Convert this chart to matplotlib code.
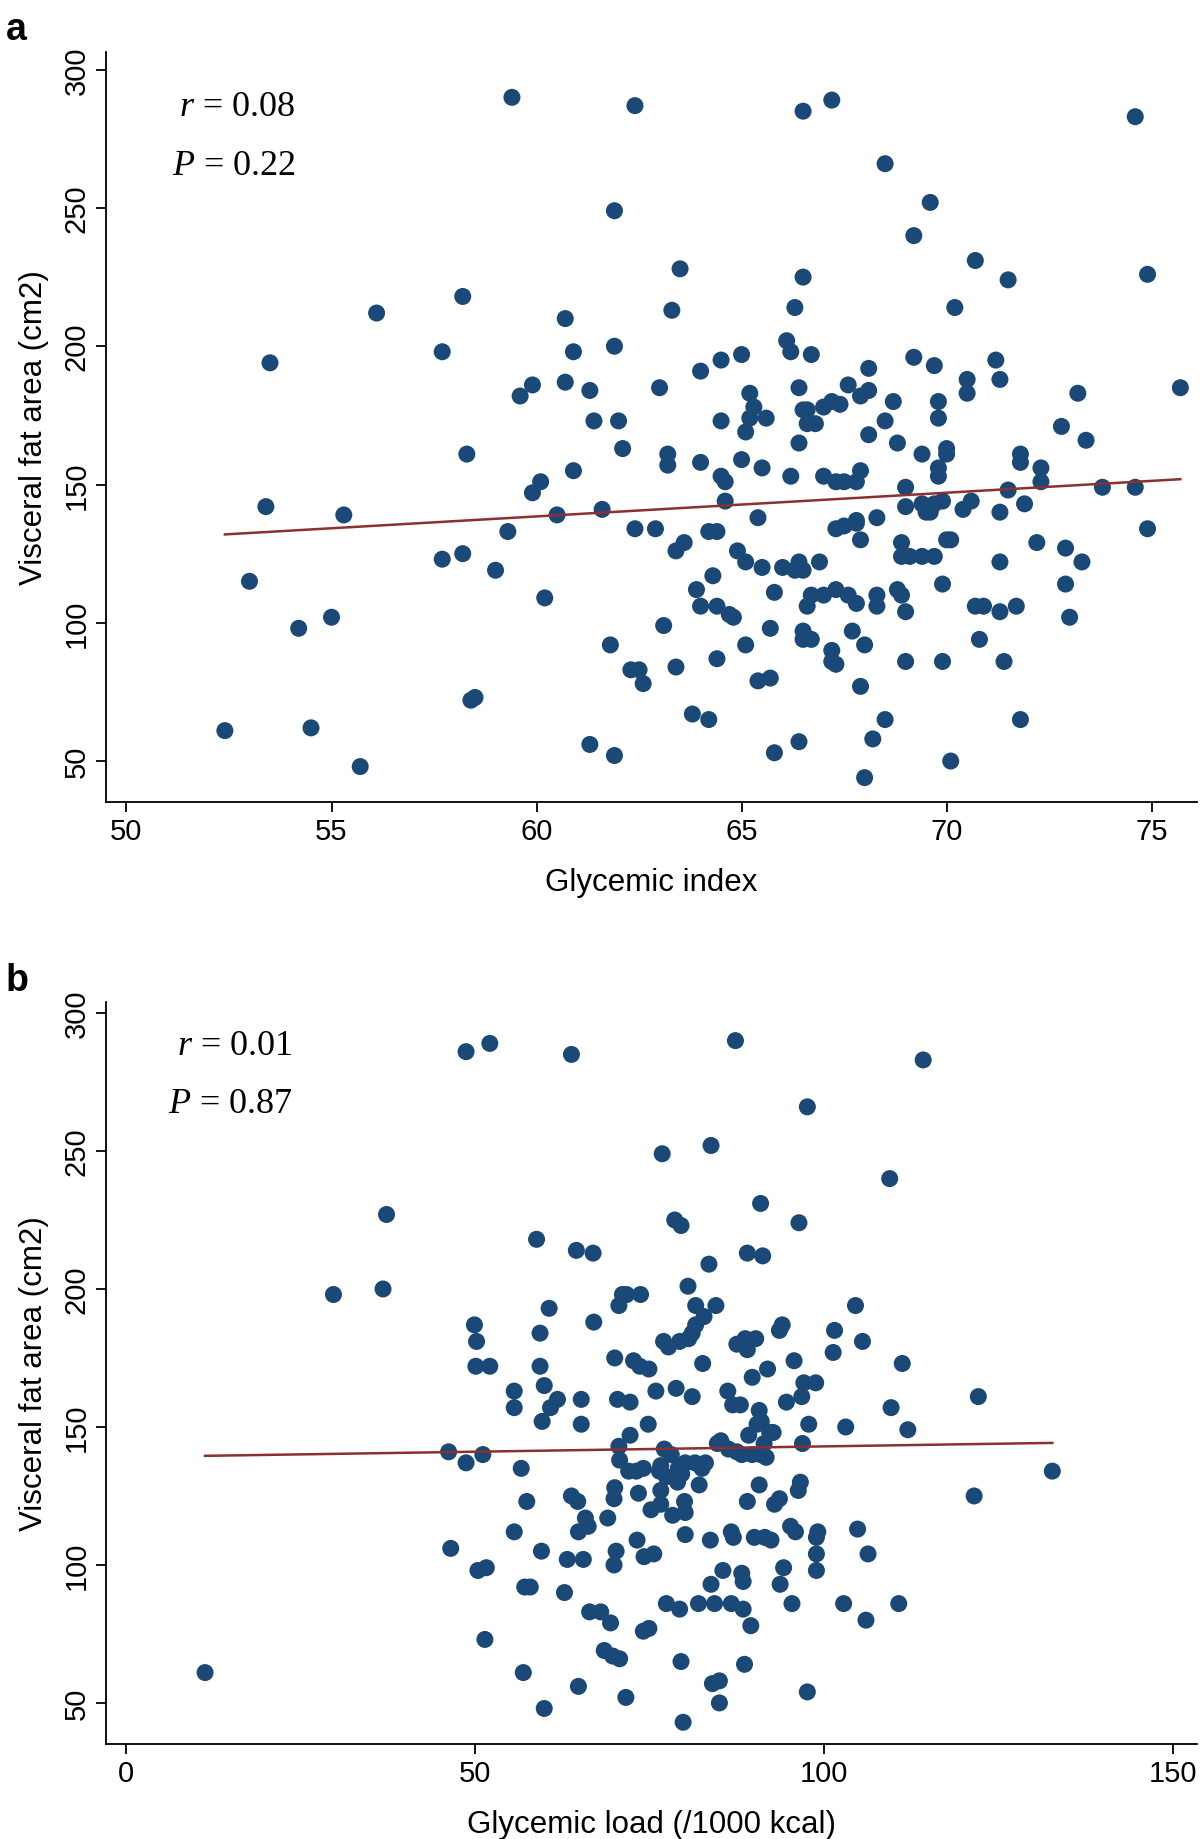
import numpy as np
import matplotlib.pyplot as plt

plt.rcParams['font.family'] = ['Liberation Sans', 'DejaVu Sans']
plt.rcParams['mathtext.fontset'] = 'custom'
plt.rcParams['mathtext.it'] = 'Liberation Serif:italic'
plt.rcParams['mathtext.rm'] = 'Liberation Serif'

# Panel a: glycemic index vs visceral fat area
gi = [52.4, 53.0, 53.4, 53.5, 54.2, 54.5, 55.0, 55.3, 55.7, 56.1,
      57.7, 57.7, 58.2, 58.2, 58.3, 58.4, 58.5, 59.0, 59.3, 59.4,
      59.6, 59.9, 59.9, 60.1, 60.2, 60.5, 60.7, 60.7, 60.9, 60.9,
      61.3, 61.3, 61.4, 61.6, 61.8, 61.9, 61.9, 61.9, 62.0, 62.1,
      62.3, 62.4, 62.4, 62.5, 62.6, 62.9, 63.0, 63.1, 63.2, 63.2,
      63.3, 63.4, 63.4, 63.5, 63.6, 63.8, 63.9, 64.0, 64.0, 64.0,
      64.2, 64.2, 64.3, 64.4, 64.4, 64.4, 64.5, 64.5, 64.5, 64.6,
      64.6, 64.7, 64.8, 64.9, 65.0, 65.0, 65.1, 65.1, 65.1, 65.2,
      65.2, 65.3, 65.4, 65.4, 65.5, 65.5, 65.6, 65.7, 65.7, 65.8,
      65.8, 66.0, 66.1, 66.2, 66.2, 66.3, 66.3, 66.4, 66.4, 66.4,
      66.4, 66.5, 66.5, 66.5, 66.5, 66.5, 66.5, 66.6, 66.6, 66.6,
      66.7, 66.7, 66.7, 66.8, 66.9, 67.0, 67.0, 67.0, 67.2, 67.2,
      67.2, 67.2, 67.3, 67.3, 67.3, 67.3, 67.4, 67.5, 67.5, 67.6,
      67.6, 67.7, 67.8, 67.8, 67.8, 67.8, 67.9, 67.9, 67.9, 67.9,
      68.0, 68.0, 68.1, 68.1, 68.1, 68.2, 68.3, 68.3, 68.3, 68.5,
      68.5, 68.5, 68.7, 68.8, 68.8, 68.9, 68.9, 68.9, 69.0, 69.0,
      69.0, 69.0, 69.1, 69.2, 69.2, 69.4, 69.4, 69.4, 69.5, 69.5,
      69.6, 69.6, 69.7, 69.7, 69.7, 69.8, 69.8, 69.8, 69.8, 69.9,
      69.9, 69.9, 70.0, 70.0, 70.0, 70.1, 70.1, 70.2, 70.4, 70.5,
      70.5, 70.6, 70.7, 70.7, 70.8, 70.9, 71.2, 71.3, 71.3, 71.3,
      71.3, 71.4, 71.5, 71.5, 71.7, 71.8, 71.8, 71.8, 71.9, 72.2,
      72.3, 72.3, 72.8, 72.9, 72.9, 73.0, 73.2, 73.3, 73.4, 73.8,
      74.6, 74.6, 74.9, 74.9, 75.7]
vfa_a = [61, 115, 142, 194, 98, 62, 102, 139, 48, 212,
         123, 198, 125, 218, 161, 72, 73, 119, 133, 290,
         182, 186, 147, 151, 109, 139, 187, 210, 198, 155,
         56, 184, 173, 141, 92, 52, 249, 200, 173, 163,
         83, 287, 134, 83, 78, 134, 185, 99, 161, 157,
         213, 84, 126, 228, 129, 67, 112, 191, 106, 158,
         65, 133, 117, 87, 133, 106, 153, 195, 173, 151,
         144, 103, 102, 126, 159, 197, 169, 92, 122, 183,
         174, 178, 138, 79, 120, 156, 174, 80, 98, 53,
         111, 120, 202, 198, 153, 214, 119, 165, 185, 57,
         122, 119, 177, 94, 285, 97, 225, 106, 172, 177,
         197, 110, 94, 172, 122, 153, 178, 110, 86, 180,
         90, 289, 85, 134, 151, 112, 179, 135, 151, 186,
         110, 97, 151, 136, 107, 137, 130, 182, 77, 155,
         92, 44, 192, 184, 168, 58, 106, 138, 110, 173,
         266, 65, 180, 112, 165, 110, 124, 129, 86, 142,
         104, 149, 124, 196, 240, 161, 143, 124, 140, 142,
         140, 252, 143, 124, 193, 180, 174, 156, 153, 86,
         144, 114, 130, 161, 163, 50, 130, 214, 141, 188,
         183, 144, 106, 231, 94, 106, 195, 188, 140, 104,
         122, 86, 224, 148, 106, 65, 161, 158, 143, 129,
         151, 156, 171, 127, 114, 102, 183, 122, 166, 149,
         149, 283, 134, 226, 185]

# Panel b: glycemic load vs visceral fat area
gl = [11.3, 29.7, 36.8, 37.3, 46.2, 46.5, 48.7, 48.7, 49.9, 50.1,
      50.2, 50.4, 51.1, 51.4, 51.6, 52.1, 52.1, 55.6, 55.6, 55.6,
      56.6, 56.9, 57.1, 57.4, 57.9, 58.8, 59.3, 59.3, 59.5, 59.6,
      59.9, 59.9, 60.6, 60.8, 61.8, 62.8, 63.2, 63.8, 63.8, 64.5,
      64.7, 64.8, 64.8, 65.2, 65.2, 65.5, 65.8, 66.2, 66.4, 66.9,
      67.0, 68.0, 68.5, 69.0, 69.4, 69.7, 69.9, 69.9, 70.0, 70.0,
      70.2, 70.4, 70.6, 70.7, 70.7, 70.6, 71.1, 71.6, 71.7, 72.0,
      72.2, 72.2, 72.7, 73.1, 73.2, 73.4, 73.6, 73.7, 74.1, 74.1,
      74.2, 74.8, 74.9, 74.9, 75.2, 75.6, 75.9, 76.4, 76.6, 76.6,
      76.6, 76.8, 77.0, 77.1, 77.4, 77.4, 77.7, 78.1, 78.3, 78.6,
      78.8, 79.0, 79.1, 79.3, 79.3, 79.5, 79.5, 79.6, 79.8, 80.0,
      80.1, 80.1, 80.1, 80.5, 80.6, 81.1, 81.1, 81.5, 81.6, 81.6,
      82.0, 82.1, 82.5, 82.6, 82.8, 83.0, 83.5, 83.7, 83.8, 83.8,
      84.0, 84.3, 84.5, 84.7, 85.0, 85.0, 85.2, 85.5, 86.2, 86.3,
      86.7, 86.7, 86.9, 87.0, 87.3, 87.5, 87.5, 88.0, 88.2, 88.2,
      88.4, 88.4, 88.6, 88.7, 89.0, 89.0, 89.0, 89.2, 89.5, 89.7,
      89.7, 90.0, 90.2, 90.4, 90.7, 90.7, 90.9, 90.9, 91.0, 91.2,
      91.4, 91.5, 91.7, 91.9, 92.2, 92.4, 92.7, 92.9, 93.6, 93.6,
      93.7, 94.0, 94.2, 94.6, 95.2, 95.4, 95.7, 95.9, 96.3, 96.4,
      96.6, 96.8, 96.9, 97.1, 97.6, 97.6, 97.8, 98.8, 98.9, 98.9,
      99.1, 98.9, 101.5, 101.3, 102.8, 103.1, 104.5, 104.8, 105.5, 106.0,
      106.3, 109.4, 109.6, 110.7, 111.2, 112.0, 114.2, 122.1, 121.5, 132.7]
vfa_b = [61, 198, 200, 227, 141, 106, 137, 286, 187, 172,
         181, 98, 140, 73, 99, 289, 172, 163, 112, 157,
         135, 61, 92, 123, 92, 218, 184, 172, 105, 152,
         48, 165, 193, 157, 160, 90, 102, 125, 285, 214,
         123, 56, 112, 151, 160, 102, 117, 114, 83, 213,
         188, 83, 69, 117, 79, 67, 100, 124, 128, 175,
         105, 160, 143, 66, 138, 194, 198, 52, 198, 134,
         147, 159, 174, 134, 109, 126, 172, 198, 135, 76,
         103, 151, 77, 171, 120, 104, 163, 134, 122, 127,
         136, 249, 181, 142, 86, 132, 179, 140, 118, 225,
         164, 130, 135, 84, 181, 223, 65, 133, 43, 123,
         137, 119, 111, 201, 182, 184, 161, 137, 194, 187,
         86, 129, 135, 173, 190, 137, 209, 109, 252, 93,
         57, 86, 194, 144, 50, 58, 145, 98, 163, 142,
         86, 112, 158, 110, 290, 141, 180, 158, 140, 97,
         94, 84, 64, 182, 213, 178, 123, 147, 78, 140,
         168, 110, 182, 151, 156, 129, 140, 231, 152, 212,
         144, 110, 139, 171, 148, 109, 148, 122, 124, 185,
         93, 187, 99, 159, 114, 86, 174, 112, 127, 224,
         130, 161, 144, 166, 54, 266, 151, 166, 110, 104,
         112, 98, 185, 177, 86, 150, 194, 113, 181, 80,
         104, 240, 157, 86, 173, 149, 283, 161, 125, 134]

panels = [
    dict(x=gi, y=vfa_a, letter='a', xlabel='Glycemic index', r='0.08', p='0.22',
         xticks=[50, 55, 60, 65, 70, 75], xlim=(49.5, 76.1), ylim=(35.2, 306.4),
         rect=[0.0883, 0.5636, 0.909, 0.4076], txt=(0.174, 0.927, 0.848)),
    dict(x=gl, y=vfa_b, letter='b', xlabel='Glycemic load (/1000 kcal)', r='0.01', p='0.87',
         xticks=[0, 50, 100, 150], xlim=(-2.9, 153.4), ylim=(35.1, 304),
         rect=[0.0883, 0.0516, 0.909, 0.4033], txt=(0.171, 0.942, 0.863)),
]

dot_color = '#1a4877'
line_color = '#8c2f2f'

fig = plt.figure(figsize=(12, 18.4), dpi=100)

for p in panels:
    ax = fig.add_axes(p['rect'])
    x = np.array(p['x'])
    y = np.array(p['y'])
    ax.scatter(x, y, s=150, color=dot_color, edgecolors='none', zorder=2)

    # linear fit
    b1, b0 = np.polyfit(x, y, 1)
    xs = np.array([x.min(), x.max()])
    ax.plot(xs, b0 + b1 * xs, color=line_color, lw=1.8, zorder=3)

    ax.set_xlim(*p['xlim'])
    ax.set_ylim(*p['ylim'])
    ax.set_xticks(p['xticks'])
    ax.set_yticks([50, 100, 150, 200, 250, 300])
    for s in ['top', 'right']:
        ax.spines[s].set_visible(False)
    for s in ['left', 'bottom']:
        ax.spines[s].set_linewidth(1.3)
    ax.tick_params(direction='out', length=7, width=1.3, labelsize=21)
    ax.tick_params(axis='y', pad=4)
    plt.setp(ax.get_yticklabels(), rotation=90, va='center')
    ax.set_xlabel(p['xlabel'], fontsize=22.5, labelpad=16)
    ax.set_ylabel('Visceral fat area (cm2)', fontsize=22.5, labelpad=10)

    tx, ty1, ty2 = p['txt']
    ax.text(tx, ty1, r'$\it{r}$ = ' + p['r'], transform=ax.transAxes, ha='right',
            va='center', fontsize=26, family='Liberation Serif')
    ax.text(tx, ty2, r'$\it{P}$ = ' + p['p'], transform=ax.transAxes, ha='right',
            va='center', fontsize=26, family='Liberation Serif')
    ax.text(-0.082, 1.03, p['letter'], transform=ax.transAxes, fontsize=27,
            fontweight='bold', va='center', ha='center')

fig.savefig('out.png', dpi=100)
